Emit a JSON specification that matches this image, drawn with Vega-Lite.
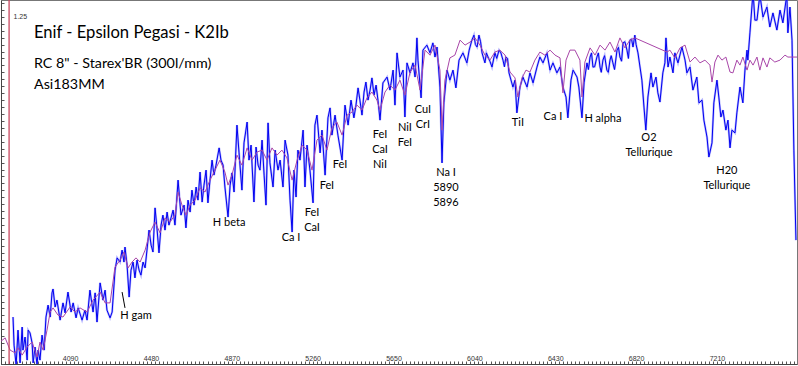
{
"$schema":"https://vega.github.io/schema/vega-lite/v6.json",
"width":796,"height":364,"autosize":"none","padding":{"left":1,"top":0,"right":1,"bottom":2},
"background":"white",
"config":{"view":{"stroke":"#777","strokeWidth":1},"font":"Lato"},
"datasets":{
"obs":[{"w":3815,"f":0.169},{"w":3820,"f":0.068},{"w":3830,"f":-0.004},{"w":3839,"f":0.122},{"w":3849,"f":0.004},{"w":3859,"f":0.133},{"w":3863,"f":0.05},{"w":3873,"f":0.097},{"w":3883,"f":0.014},{"w":3888,"f":0.122},{"w":3897,"f":0.112},{"w":3907,"f":0.076},{"w":3912,"f":0.004},{"w":3921,"f":0.061},{"w":3931,"f":-0.004},{"w":3936,"f":0.05},{"w":3945,"f":0.014},{"w":3955,"f":0.104},{"w":3965,"f":0.05},{"w":3974,"f":0.169},{"w":3984,"f":0.212},{"w":3994,"f":0.169},{"w":4003,"f":0.256},{"w":4008,"f":0.27},{"w":4018,"f":0.205},{"w":4027,"f":0.23},{"w":4042,"f":0.158},{"w":4056,"f":0.22},{"w":4066,"f":0.184},{"w":4080,"f":0.259},{"w":4095,"f":0.187},{"w":4105,"f":0.22},{"w":4119,"f":0.166},{"w":4129,"f":0.202},{"w":4148,"f":0.158},{"w":4162,"f":0.194},{"w":4172,"f":0.158},{"w":4186,"f":0.266},{"w":4201,"f":0.187},{"w":4211,"f":0.256},{"w":4220,"f":0.151},{"w":4235,"f":0.292},{"w":4249,"f":0.23},{"w":4259,"f":0.266},{"w":4268,"f":0.194},{"w":4283,"f":0.166},{"w":4293,"f":0.187},{"w":4307,"f":0.338},{"w":4317,"f":0.382},{"w":4331,"f":0.367},{"w":4341,"f":0.41},{"w":4350,"f":0.367},{"w":4355,"f":0.421},{"w":4365,"f":0.356},{"w":4375,"f":0.241},{"w":4384,"f":0.338},{"w":4394,"f":0.367},{"w":4403,"f":0.31},{"w":4413,"f":0.374},{"w":4423,"f":0.338},{"w":4432,"f":0.32},{"w":4442,"f":0.367},{"w":4452,"f":0.346},{"w":4461,"f":0.41},{"w":4471,"f":0.482},{"w":4481,"f":0.428},{"w":4490,"f":0.403},{"w":4500,"f":0.562},{"w":4510,"f":0.482},{"w":4519,"f":0.4},{"w":4529,"f":0.5},{"w":4538,"f":0.536},{"w":4548,"f":0.482},{"w":4558,"f":0.547},{"w":4567,"f":0.5},{"w":4577,"f":0.526},{"w":4587,"f":0.554},{"w":4596,"f":0.5},{"w":4611,"f":0.662},{"w":4625,"f":0.536},{"w":4640,"f":0.572},{"w":4649,"f":0.49},{"w":4659,"f":0.59},{"w":4669,"f":0.547},{"w":4678,"f":0.626},{"w":4688,"f":0.572},{"w":4698,"f":0.637},{"w":4707,"f":0.59},{"w":4717,"f":0.691},{"w":4727,"f":0.583},{"w":4736,"f":0.644},{"w":4746,"f":0.698},{"w":4755,"f":0.58},{"w":4765,"f":0.662},{"w":4775,"f":0.734},{"w":4784,"f":0.68},{"w":4794,"f":0.716},{"w":4809,"f":0.778},{"w":4818,"f":0.734},{"w":4828,"f":0.716},{"w":4837,"f":0.637},{"w":4852,"f":0.529},{"w":4862,"f":0.644},{"w":4871,"f":0.688},{"w":4881,"f":0.619},{"w":4895,"f":0.86},{"w":4905,"f":0.76},{"w":4919,"f":0.626},{"w":4929,"f":0.796},{"w":4944,"f":0.871},{"w":4953,"f":0.734},{"w":4963,"f":0.788},{"w":4977,"f":0.583},{"w":4987,"f":0.781},{"w":4997,"f":0.716},{"w":5006,"f":0.698},{"w":5016,"f":0.806},{"w":5026,"f":0.68},{"w":5035,"f":0.572},{"w":5045,"f":0.868},{"w":5054,"f":0.724},{"w":5069,"f":0.637},{"w":5079,"f":0.77},{"w":5093,"f":0.698},{"w":5103,"f":0.734},{"w":5117,"f":0.637},{"w":5127,"f":0.806},{"w":5141,"f":0.752},{"w":5151,"f":0.59},{"w":5161,"f":0.475},{"w":5170,"f":0.698},{"w":5180,"f":0.601},{"w":5189,"f":0.77},{"w":5199,"f":0.734},{"w":5214,"f":0.842},{"w":5223,"f":0.637},{"w":5233,"f":0.788},{"w":5247,"f":0.698},{"w":5262,"f":0.58},{"w":5271,"f":0.86},{"w":5281,"f":0.896},{"w":5296,"f":0.76},{"w":5305,"f":0.842},{"w":5320,"f":0.68},{"w":5334,"f":0.886},{"w":5344,"f":0.922},{"w":5353,"f":0.824},{"w":5368,"f":0.896},{"w":5382,"f":0.824},{"w":5402,"f":0.734},{"w":5416,"f":0.932},{"w":5431,"f":0.86},{"w":5445,"f":0.95},{"w":5459,"f":0.886},{"w":5469,"f":0.932},{"w":5479,"f":0.994},{"w":5488,"f":0.95},{"w":5498,"f":0.896},{"w":5508,"f":0.979},{"w":5517,"f":1.015},{"w":5527,"f":0.95},{"w":5537,"f":0.986},{"w":5546,"f":1.03},{"w":5556,"f":0.968},{"w":5566,"f":1.004},{"w":5575,"f":0.95},{"w":5585,"f":0.878},{"w":5599,"f":1.012},{"w":5619,"f":1.033},{"w":5633,"f":0.986},{"w":5648,"f":1.058},{"w":5657,"f":0.932},{"w":5667,"f":1.12},{"w":5681,"f":1.033},{"w":5696,"f":1.058},{"w":5705,"f":0.889},{"w":5715,"f":1.084},{"w":5730,"f":1.048},{"w":5744,"f":1.084},{"w":5754,"f":1.033},{"w":5763,"f":1.174},{"w":5768,"f":1.094},{"w":5783,"f":0.958},{"w":5792,"f":1.13},{"w":5811,"f":1.148},{"w":5826,"f":1.12},{"w":5840,"f":1.156},{"w":5850,"f":1.105},{"w":5860,"f":1.141},{"w":5874,"f":0.997},{"w":5884,"f":0.724},{"w":5893,"f":0.94},{"w":5908,"f":1.058},{"w":5922,"f":1.022},{"w":5937,"f":1.058},{"w":5951,"f":0.994},{"w":5966,"f":1.094},{"w":5985,"f":1.12},{"w":6004,"f":1.084},{"w":6015,"f":1.13},{"w":6028,"f":1.166},{"w":6038,"f":1.184},{"w":6045,"f":1.15},{"w":6053,"f":1.141},{"w":6062,"f":1.184},{"w":6070,"f":1.16},{"w":6077,"f":1.12},{"w":6091,"f":1.084},{"w":6098,"f":1.12},{"w":6106,"f":1.105},{"w":6115,"f":1.09},{"w":6125,"f":1.069},{"w":6139,"f":1.12},{"w":6148,"f":1.1},{"w":6159,"f":1.13},{"w":6168,"f":1.12},{"w":6178,"f":1.094},{"w":6185,"f":1.07},{"w":6192,"f":1.105},{"w":6200,"f":1.1},{"w":6207,"f":1.048},{"w":6226,"f":0.997},{"w":6236,"f":1.022},{"w":6245,"f":0.904},{"w":6260,"f":0.997},{"w":6274,"f":1.033},{"w":6294,"f":0.997},{"w":6308,"f":1.048},{"w":6323,"f":1.012},{"w":6342,"f":1.069},{"w":6356,"f":1.105},{"w":6371,"f":1.084},{"w":6390,"f":1.12},{"w":6405,"f":1.058},{"w":6419,"f":1.084},{"w":6438,"f":1.048},{"w":6453,"f":1.069},{"w":6467,"f":0.997},{"w":6482,"f":0.961},{"w":6491,"f":0.886},{"w":6506,"f":1.022},{"w":6516,"f":1.058},{"w":6535,"f":1.033},{"w":6544,"f":0.997},{"w":6559,"f":0.886},{"w":6569,"f":1.012},{"w":6583,"f":1.084},{"w":6590,"f":1.06},{"w":6598,"f":1.105},{"w":6605,"f":1.12},{"w":6612,"f":1.069},{"w":6620,"f":1.07},{"w":6631,"f":1.105},{"w":6638,"f":1.12},{"w":6646,"f":1.069},{"w":6652,"f":1.05},{"w":6660,"f":1.094},{"w":6668,"f":1.11},{"w":6679,"f":1.058},{"w":6686,"f":1.05},{"w":6694,"f":1.094},{"w":6700,"f":1.11},{"w":6708,"f":1.084},{"w":6716,"f":1.06},{"w":6728,"f":1.13},{"w":6735,"f":1.14},{"w":6742,"f":1.105},{"w":6750,"f":1.09},{"w":6757,"f":1.156},{"w":6766,"f":1.16},{"w":6776,"f":1.13},{"w":6783,"f":1.1},{"w":6790,"f":1.166},{"w":6798,"f":1.17},{"w":6805,"f":1.141},{"w":6814,"f":1.184},{"w":6820,"f":1.15},{"w":6829,"f":1.12},{"w":6848,"f":1.022},{"w":6858,"f":0.925},{"w":6867,"f":0.842},{"w":6877,"f":0.961},{"w":6892,"f":1.048},{"w":6901,"f":0.997},{"w":6916,"f":1.033},{"w":6925,"f":0.976},{"w":6935,"f":0.943},{"w":6949,"f":1.048},{"w":6959,"f":1.084},{"w":6964,"f":1.174},{"w":6974,"f":1.069},{"w":6983,"f":1.105},{"w":6998,"f":1.048},{"w":7007,"f":1.12},{"w":7022,"f":1.084},{"w":7041,"f":1.141},{"w":7056,"f":1.094},{"w":7065,"f":1.048},{"w":7080,"f":1.069},{"w":7094,"f":0.986},{"w":7113,"f":1.033},{"w":7123,"f":0.94},{"w":7138,"f":0.95},{"w":7147,"f":0.878},{"w":7162,"f":0.817},{"w":7171,"f":0.745},{"w":7186,"f":0.796},{"w":7195,"f":0.94},{"w":7210,"f":1.022},{"w":7219,"f":0.961},{"w":7229,"f":0.889},{"w":7239,"f":0.914},{"w":7253,"f":0.842},{"w":7263,"f":0.878},{"w":7273,"f":0.778},{"w":7282,"f":0.842},{"w":7297,"f":0.832},{"w":7306,"f":0.904},{"w":7321,"f":0.997},{"w":7335,"f":0.94},{"w":7345,"f":1.058},{"w":7355,"f":1.13},{"w":7359,"f":1.094},{"w":7369,"f":1.192},{"w":7384,"f":1.34},{"w":7393,"f":1.238},{"w":7403,"f":1.238},{"w":7417,"f":1.33},{"w":7432,"f":1.249},{"w":7451,"f":1.285},{"w":7465,"f":1.213},{"w":7480,"f":1.264},{"w":7499,"f":1.202},{"w":7514,"f":1.274},{"w":7528,"f":1.228},{"w":7547,"f":1.33},{"w":7552,"f":1.192},{"w":7562,"f":1.285},{"w":7572,"f":1.166},{"w":7581,"f":0.77},{"w":7591,"f":0.446}],
"ref":[{"w":3752,"f":0.079},{"w":3777,"f":0.094},{"w":3801,"f":0.05},{"w":3825,"f":0.04},{"w":3839,"f":0.058},{"w":3859,"f":0.032},{"w":3883,"f":0.061},{"w":3907,"f":0.079},{"w":3931,"f":0.025},{"w":3945,"f":0.079},{"w":3960,"f":0.05},{"w":3979,"f":0.122},{"w":3994,"f":0.187},{"w":4008,"f":0.202},{"w":4032,"f":0.176},{"w":4056,"f":0.169},{"w":4090,"f":0.205},{"w":4114,"f":0.187},{"w":4138,"f":0.202},{"w":4172,"f":0.187},{"w":4201,"f":0.23},{"w":4235,"f":0.259},{"w":4259,"f":0.22},{"w":4283,"f":0.22},{"w":4307,"f":0.349},{"w":4331,"f":0.374},{"w":4350,"f":0.403},{"w":4370,"f":0.346},{"w":4389,"f":0.367},{"w":4408,"f":0.382},{"w":4428,"f":0.367},{"w":4452,"f":0.41},{"w":4476,"f":0.475},{"w":4500,"f":0.511},{"w":4524,"f":0.472},{"w":4548,"f":0.526},{"w":4572,"f":0.511},{"w":4596,"f":0.536},{"w":4611,"f":0.619},{"w":4630,"f":0.572},{"w":4649,"f":0.536},{"w":4669,"f":0.572},{"w":4693,"f":0.59},{"w":4717,"f":0.634},{"w":4741,"f":0.619},{"w":4765,"f":0.662},{"w":4789,"f":0.698},{"w":4813,"f":0.734},{"w":4837,"f":0.691},{"w":4852,"f":0.644},{"w":4871,"f":0.68},{"w":4895,"f":0.752},{"w":4919,"f":0.716},{"w":4944,"f":0.778},{"w":4968,"f":0.734},{"w":4992,"f":0.763},{"w":5016,"f":0.77},{"w":5040,"f":0.734},{"w":5064,"f":0.778},{"w":5088,"f":0.752},{"w":5112,"f":0.77},{"w":5136,"f":0.742},{"w":5161,"f":0.662},{"w":5185,"f":0.734},{"w":5209,"f":0.788},{"w":5233,"f":0.77},{"w":5257,"f":0.698},{"w":5281,"f":0.806},{"w":5305,"f":0.824},{"w":5329,"f":0.77},{"w":5353,"f":0.85},{"w":5377,"f":0.871},{"w":5402,"f":0.824},{"w":5426,"f":0.896},{"w":5450,"f":0.907},{"w":5474,"f":0.932},{"w":5498,"f":0.914},{"w":5522,"f":0.958},{"w":5546,"f":0.979},{"w":5570,"f":0.95},{"w":5585,"f":0.914},{"w":5609,"f":0.979},{"w":5633,"f":1.004},{"w":5657,"f":0.986},{"w":5681,"f":1.022},{"w":5705,"f":0.968},{"w":5730,"f":1.051},{"w":5754,"f":1.076},{"w":5778,"f":0.986},{"w":5802,"f":1.13},{"w":5826,"f":1.112},{"w":5850,"f":1.148},{"w":5874,"f":1.058},{"w":5884,"f":0.842},{"w":5898,"f":1.022},{"w":5922,"f":1.102},{"w":5946,"f":1.112},{"w":5971,"f":1.166},{"w":5995,"f":1.148},{"w":6019,"f":1.159},{"w":6043,"f":1.174},{"w":6067,"f":1.148},{"w":6091,"f":1.112},{"w":6115,"f":1.094},{"w":6139,"f":1.123},{"w":6163,"f":1.13},{"w":6188,"f":1.112},{"w":6212,"f":1.051},{"w":6236,"f":1.03},{"w":6250,"f":0.961},{"w":6270,"f":1.03},{"w":6289,"f":1.058},{"w":6308,"f":1.051},{"w":6332,"f":1.094},{"w":6356,"f":1.123},{"w":6380,"f":1.112},{"w":6405,"f":1.13},{"w":6429,"f":1.112},{"w":6453,"f":1.102},{"w":6467,"f":0.976},{"w":6482,"f":1.094},{"w":6501,"f":1.13},{"w":6525,"f":1.13},{"w":6549,"f":1.094},{"w":6559,"f":0.961},{"w":6573,"f":1.087},{"w":6598,"f":1.138},{"w":6622,"f":1.112},{"w":6646,"f":1.148},{"w":6670,"f":1.13},{"w":6694,"f":1.159},{"w":6718,"f":1.123},{"w":6742,"f":1.174},{"w":6766,"f":1.138},{"w":6790,"f":1.166},{"w":6814,"f":1.174},{"w":6969,"f":1.123},{"w":6983,"f":1.13},{"w":7007,"f":1.102},{"w":7032,"f":1.138},{"w":7056,"f":1.148},{"w":7080,"f":1.087},{"w":7104,"f":1.105},{"w":7128,"f":1.084},{"w":7152,"f":1.094},{"w":7176,"f":1.076},{"w":7186,"f":1.015},{"w":7200,"f":1.087},{"w":7215,"f":1.112},{"w":7234,"f":1.094},{"w":7253,"f":1.105},{"w":7273,"f":1.051},{"w":7287,"f":1.048},{"w":7306,"f":1.094},{"w":7321,"f":1.076},{"w":7335,"f":1.105},{"w":7355,"f":1.058},{"w":7369,"f":1.094},{"w":7384,"f":1.076},{"w":7403,"f":1.105},{"w":7417,"f":1.058},{"w":7432,"f":1.102},{"w":7451,"f":1.069},{"w":7465,"f":1.102},{"w":7489,"f":1.087},{"w":7514,"f":1.094},{"w":7538,"f":1.112},{"w":7552,"f":1.105},{"w":7601,"f":1.105}],
"lines":[{"t":"H gam","w":4408,"f":0.194},{"t":"H beta","w":4857,"f":0.529},{"t":"Ca I","w":5156,"f":0.475},{"t":"FeI\nCaI","w":5257,"f":0.565},{"t":"FeI","w":5329,"f":0.662},{"t":"FeI","w":5392,"f":0.738},{"t":"FeI\nCaI\nNiI","w":5585,"f":0.846},{"t":"NiI\nFeI","w":5705,"f":0.871},{"t":"CuI\nCrI","w":5792,"f":0.936},{"t":"Na I\n5890\n5896","w":5903,"f":0.709},{"t":"TiI","w":6250,"f":0.889},{"t":"Ca I","w":6419,"f":0.911},{"t":"H alpha","w":6660,"f":0.904},{"t":"O2\nTellurique","w":6882,"f":0.835},{"t":"H20\nTellurique","w":7258,"f":0.716}]
},
"encoding":{
  "x":{"field":"w","type":"quantitative","scale":{"domain":[3757,7596],"nice":false,"zero":false},
   "axis":{"title":null,"grid":false,"orient":"bottom","values":[3758.5,3778,3797.5,3817,3836.5,3856,3875.5,3895,3914.5,3934,3953.5,3973,3992.5,4012,4031.5,4051,4070.5,4090,4109.5,4129,4148.5,4168,4187.5,4207,4226.5,4246,4265.5,4285,4304.5,4324,4343.5,4363,4382.5,4402,4421.5,4441,4460.5,4480,4499.5,4519,4538.5,4558,4577.5,4597,4616.5,4636,4655.5,4675,4694.5,4714,4733.5,4753,4772.5,4792,4811.5,4831,4850.5,4870,4889.5,4909,4928.5,4948,4967.5,4987,5006.5,5026,5045.5,5065,5084.5,5104,5123.5,5143,5162.5,5182,5201.5,5221,5240.5,5260,5279.5,5299,5318.5,5338,5357.5,5377,5396.5,5416,5435.5,5455,5474.5,5494,5513.5,5533,5552.5,5572,5591.5,5611,5630.5,5650,5669.5,5689,5708.5,5728,5747.5,5767,5786.5,5806,5825.5,5845,5864.5,5884,5903.5,5923,5942.5,5962,5981.5,6001,6020.5,6040,6059.5,6079,6098.5,6118,6137.5,6157,6176.5,6196,6215.5,6235,6254.5,6274,6293.5,6313,6332.5,6352,6371.5,6391,6410.5,6430,6449.5,6469,6488.5,6508,6527.5,6547,6566.5,6586,6605.5,6625,6644.5,6664,6683.5,6703,6722.5,6742,6761.5,6781,6800.5,6820,6839.5,6859,6878.5,6898,6917.5,6937,6956.5,6976,6995.5,7015,7034.5,7054,7073.5,7093,7112.5,7132,7151.5,7171,7190.5,7210,7229.5,7249,7268.5,7288,7307.5,7327,7346.5,7366,7385.5,7405,7424.5,7444,7463.5,7483,7502.5,7522,7541.5,7561,7580.5],
    "labelExpr":"indexof([4090,4480,4870,5260,5650,6040,6430,6820,7210], datum.value) >= 0 ? format(datum.value,'d') : ''",
    "labelFont":"Liberation Sans","labelFontSize":7,"labelColor":"#333","labelBaseline":"bottom","labelPadding":0,"tickSize":-3,"tickColor":"#555","domainColor":"#444","labelOverlap":false,"labelFlush":false,"labelBound":false}},
  "y":{"field":"f","type":"quantitative","scale":{"domain":[0,1.3104],"nice":false,"zero":false},
   "axis":{"title":null,"grid":false,"orient":"left","values":[0,0.025,0.05,0.075,0.1,0.125,0.15,0.175,0.2,0.225,0.25,0.275,0.3,0.325,0.35,0.375,0.4,0.425,0.45,0.475,0.5,0.525,0.55,0.575,0.6,0.625,0.65,0.675,0.7,0.725,0.75,0.775,0.8,0.825,0.85,0.875,0.9,0.925,0.95,0.975,1,1.025,1.05,1.075,1.1,1.125,1.15,1.175,1.2,1.225,1.25,1.275,1.3],
    "labelExpr":"datum.value == 1.25 ? '1.25' : ''","labelFont":"Liberation Sans","labelFontSize":7,"labelColor":"#333","labelAlign":"left","labelBaseline":"middle","labelPadding":-9,"tickSize":-3,"tickColor":"#555","domainColor":"#444","labelOverlap":false,"labelFlush":false,"labelBound":false}}
},
"layer":[
{"data":{"name":"obs"},"mark":{"type":"line","clip":true,"color":"#7d7dff","strokeWidth":2.2,"opacity":0.55}},
{"data":{"name":"obs"},"mark":{"type":"line","clip":true,"color":"#0000f0","strokeWidth":1}},
{"data":{"name":"ref"},"mark":{"type":"line","clip":true,"color":"#a845a8","strokeWidth":1}},
{"data":{"values":[{"w":3796,"f":0,"f2":1.31}]},"mark":{"type":"rule","color":"#c8485e","strokeWidth":1.3},
 "encoding":{"y2":{"field":"f2"}}},
{"data":{"values":[{"w":4341,"f":0.259,"w2":4355,"f2":0.202}]},"mark":{"type":"rule","color":"black","strokeWidth":1},
 "encoding":{"x2":{"field":"w2"},"y2":{"field":"f2"}}},
{"data":{"values":[{"t":"Enif - Epsilon Pegasi - K2Ib","w":3916,"f":1.192}]},"mark":{"type":"text","align":"left","baseline":"middle","fontSize":16.6,"font":"Lato","color":"black"},
 "encoding":{"text":{"field":"t"}}},
{"data":{"values":[{"t":"RC 8\" - Starex'BR (300l/mm)","w":3916,"f":1.08},{"t":"Asi183MM","w":3916,"f":1.004}]},"mark":{"type":"text","align":"left","baseline":"middle","fontSize":14.3,"font":"Lato","color":"black"},
 "encoding":{"text":{"field":"t"}}},
{"data":{"name":"lines"},"mark":{"type":"text","align":"center","baseline":"top","fontSize":11,"font":"Lato","color":"black","lineBreak":"\n","lineHeight":15},
 "encoding":{"text":{"field":"t"}}}
]
}
